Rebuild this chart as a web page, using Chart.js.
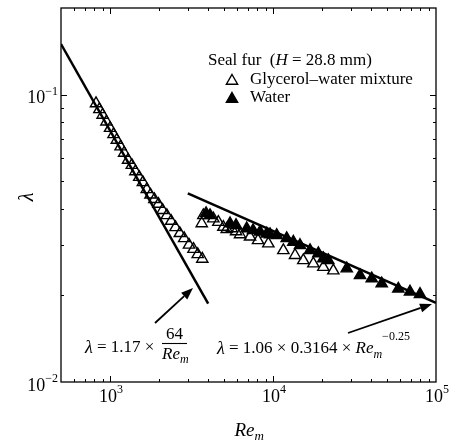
<!DOCTYPE html>
<html><head><meta charset="utf-8">
<script src="https://cdn.jsdelivr.net/npm/chart.js@4"></script>
<style>html,body{margin:0;padding:0;background:#fff}#wrap{width:452px;height:446px;position:relative}</style>
</head><body><div id="wrap"><canvas id="c"></canvas></div>
<script>
// ---- data ----
const glycerolRe = [820, 860, 900, 950, 1000, 1050, 1100, 1160, 1220, 1290, 1360, 1430, 1510, 1590, 1680, 1770, 1870, 1980, 2100, 2230, 2370, 2520, 2680, 2850, 3050, 3250, 3450, 3680,
  3652, 3736, 4302, 4618, 4956, 5200, 5580, 5930, 6273, 7225, 8090, 9358, 11570, 13650, 15340, 17670, 20350, 23440];
const glycerolLambda = [0.0931, 0.0888, 0.0849, 0.0804, 0.0764, 0.0727, 0.0695, 0.0659, 0.0626, 0.0592, 0.0568, 0.0540, 0.0516, 0.0495, 0.0468, 0.0448, 0.0432, 0.0416, 0.0396, 0.0380, 0.0363, 0.0345, 0.0329, 0.0316, 0.0300, 0.0290, 0.0278, 0.0268,
  0.0356, 0.0380, 0.0370, 0.0360, 0.0346, 0.0340, 0.0342, 0.0334, 0.0326, 0.0320, 0.0311, 0.0303, 0.0287, 0.0276, 0.0265, 0.0258, 0.0251, 0.0244];
const waterRe = [3883, 4107, 5449, 5930, 6898, 7540, 8323, 9150, 9585, 10540, 12130, 13320, 14640, 16870, 18970, 20350, 21840, 28320, 34180, 40330, 46440, 58710, 69270, 79770];
const waterLambda = [0.0386, 0.0380, 0.0356, 0.0351, 0.0342, 0.0337, 0.0333, 0.0328, 0.0326, 0.0324, 0.0316, 0.0307, 0.0299, 0.0287, 0.0280, 0.0269, 0.0265, 0.0248, 0.0235, 0.0229, 0.0220, 0.0211, 0.0206, 0.0202];
const laminarRe = [500, 4000];
const laminarLambda = [0.1498, 0.01872];
const turbulentRe = [3000, 100000];
const turbulentLambda = [0.04532, 0.01886];
const xTickExponents = [3, 4, 5];
const yTickExponents = [-2, -1];
const xRange = [500, 100000];
const yRange = [0.01, 0.2];

const pts = (xs, ys) => xs.map((v, i) => ({x: v, y: ys[i]}));
const SERIF = '"Liberation Serif", "DejaVu Serif", serif';

function line(ctx, x1, y1, x2, y2) { ctx.beginPath(); ctx.moveTo(x1, y1); ctx.lineTo(x2, y2); ctx.stroke(); }
function arrow(ctx, x1, y1, x2, y2) {
  const ang = Math.atan2(y2 - y1, x2 - x1), L = 12, W = 4.5;
  const bx = x2 - L * Math.cos(ang), by = y2 - L * Math.sin(ang);
  ctx.lineWidth = 1.8;
  line(ctx, x1, y1, bx, by);
  ctx.beginPath();
  ctx.moveTo(x2, y2);
  ctx.lineTo(bx + W * Math.sin(ang), by - W * Math.cos(ang));
  ctx.lineTo(bx - W * Math.sin(ang), by + W * Math.cos(ang));
  ctx.closePath(); ctx.fill();
}
function pow10(ctx, exp, cx, cy, align) {
  const base = '10', ex = (exp < 0 ? '\u2212' : '') + Math.abs(exp);
  ctx.font = '18px ' + SERIF; const wb = ctx.measureText(base).width;
  ctx.font = '12px ' + SERIF; const we = ctx.measureText(ex).width;
  let left = align === 'right' ? cx - wb - we : cx - (wb + we) / 2;
  ctx.textBaseline = 'middle'; ctx.textAlign = 'left';
  ctx.font = '18px ' + SERIF; ctx.fillText(base, left, cy);
  ctx.font = '12px ' + SERIF; ctx.fillText(ex, left + wb, cy - 7);
}
function triangle(ctx, x, y, r, filled) {
  ctx.beginPath();
  for (let k = 0; k < 3; k++) {
    const a = k * 2 * Math.PI / 3;
    const px = x + Math.sin(a) * r, py = y - Math.cos(a) * r;
    k ? ctx.lineTo(px, py) : ctx.moveTo(px, py);
  }
  ctx.closePath();
  ctx.lineWidth = 1.4;
  if (filled) ctx.fill();
  ctx.stroke();
}

const decor = {
  id: 'decor',
  afterDatasetsDraw(chart) {
    const {ctx, chartArea: a, scales: {x, y}} = chart;
    ctx.save();
    ctx.strokeStyle = '#000'; ctx.fillStyle = '#000';
    ctx.lineWidth = 1.3;
    ctx.strokeRect(a.left, a.top, a.right - a.left, a.bottom - a.top);
    ctx.lineWidth = 1;
    // x ticks (bottom and top, inward)
    for (let e = 2; e <= 5; e++) for (let m = 1; m <= 9; m++) {
      const v = m * Math.pow(10, e);
      if (v <= x.min * 1.0001 || v >= x.max * 0.9999) continue;
      const px = Math.round(x.getPixelForValue(v)) + 0.5, len = m === 1 ? 6 : 3;
      line(ctx, px, a.bottom, px, a.bottom - len);
      line(ctx, px, a.top, px, a.top + len);
    }
    // y ticks (left and right, inward)
    for (let e = -2; e <= -1; e++) for (let m = 1; m <= 9; m++) {
      const v = m * Math.pow(10, e);
      if (v <= y.min * 1.0001 || v >= y.max * 0.9999) continue;
      const py = Math.round(y.getPixelForValue(v)) + 0.5, len = m === 1 ? 6 : 3;
      line(ctx, a.left, py, a.left + len, py);
      line(ctx, a.right, py, a.right - len, py);
    }
    // tick labels
    xTickExponents.forEach(e => pow10(ctx, e, x.getPixelForValue(Math.pow(10, e)) + 1, a.bottom + 15, 'center'));
    yTickExponents.forEach(e => pow10(ctx, e, a.left - 3, y.getPixelForValue(Math.pow(10, e)) + 4, 'right'));
    // axis titles
    ctx.textBaseline = 'middle'; ctx.textAlign = 'left';
    ctx.font = 'italic 19px ' + SERIF;
    const wRe = ctx.measureText('Re').width;
    const cx = (a.left + a.right) / 2;
    ctx.fillText('Re', cx - (wRe + 8) / 2, 431);
    ctx.font = 'italic 13px ' + SERIF;
    ctx.fillText('m', cx - (wRe + 8) / 2 + wRe, 437);
    ctx.save();
    ctx.translate(28, (a.top + a.bottom) / 2 + 2);
    ctx.rotate(-Math.PI / 2);
    ctx.textAlign = 'center';
    ctx.font = 'italic 20px ' + SERIF;
    ctx.fillText('\u03bb', 0, 0);
    ctx.restore();
    // legend
    ctx.textAlign = 'left';
    let lx = 208; const ly = 61;
    ctx.font = '17px ' + SERIF;
    ctx.fillText('Seal fur  (', lx, ly); lx += ctx.measureText('Seal fur  (').width;
    ctx.font = 'italic 17px ' + SERIF;
    ctx.fillText('H', lx, ly); lx += ctx.measureText('H').width;
    ctx.font = '17px ' + SERIF;
    ctx.fillText(' = 28.8 mm)', lx, ly);
    triangle(ctx, 232, 81, 6.5, false);
    triangle(ctx, 232, 99, 6.5, true);
    ctx.fillText('Glycerol\u2013water mixture', 250, 80);
    ctx.fillText('Water', 250, 98);
    // formula 1
    ctx.font = 'italic 18px ' + SERIF;
    ctx.fillText('\u03bb', 85, 348);
    ctx.font = '17px ' + SERIF;
    ctx.fillText('= 1.17 \u00d7', 97, 348);
    ctx.fillText('64', 166, 335);
    ctx.lineWidth = 1.1; line(ctx, 162, 343.5, 187, 343.5);
    ctx.font = 'italic 17px ' + SERIF;
    ctx.fillText('Re', 162, 355);
    ctx.font = 'italic 12px ' + SERIF;
    ctx.fillText('m', 180, 360);
    // formula 2
    ctx.font = 'italic 18px ' + SERIF;
    ctx.fillText('\u03bb', 217, 349);
    ctx.font = '17px ' + SERIF;
    ctx.fillText('= 1.06 \u00d7 0.3164 \u00d7', 229, 349);
    let fx = 229 + ctx.measureText('= 1.06 \u00d7 0.3164 \u00d7 ').width;
    ctx.font = 'italic 17px ' + SERIF;
    ctx.fillText('Re', fx, 349); fx += ctx.measureText('Re').width;
    ctx.font = 'italic 12px ' + SERIF;
    ctx.fillText('m', fx, 355); fx += ctx.measureText('m').width;
    ctx.font = '12px ' + SERIF;
    ctx.fillText('\u22120.25', fx, 337);
    // arrows
    arrow(ctx, 155, 323, 193, 288);
    arrow(ctx, 348, 333, 432, 304);
    ctx.restore();
  }
};

new Chart(document.getElementById('c'), {
  type: 'scatter',
  data: {
    datasets: [
      {label: 'Glycerol-water mixture', data: pts(glycerolRe, glycerolLambda), pointStyle: 'triangle', pointRadius: 6.5, borderColor: '#000', backgroundColor: 'rgba(255,255,255,0)', borderWidth: 1.4, order: 2},
      {label: 'Water', data: pts(waterRe, waterLambda), pointStyle: 'triangle', pointRadius: 6.5, borderColor: '#000', backgroundColor: '#000', borderWidth: 1.4, order: 1},
      {label: 'laminar', data: pts(laminarRe, laminarLambda), showLine: true, pointRadius: 0, borderColor: '#000', borderWidth: 2.5, order: 3},
      {label: 'turbulent', data: pts(turbulentRe, turbulentLambda), showLine: true, pointRadius: 0, borderColor: '#000', borderWidth: 2.5, order: 3}
    ]
  },
  options: {
    responsive: true, maintainAspectRatio: false, animation: false,
    layout: {padding: {left: 61, right: 16, top: 8, bottom: 64}},
    plugins: {legend: {display: false}, tooltip: {enabled: false}},
    scales: {
      x: {type: 'logarithmic', min: xRange[0], max: xRange[1], display: false},
      y: {type: 'logarithmic', min: yRange[0], max: yRange[1], display: false}
    }
  },
  plugins: [decor]
});
</script>
</body></html>
